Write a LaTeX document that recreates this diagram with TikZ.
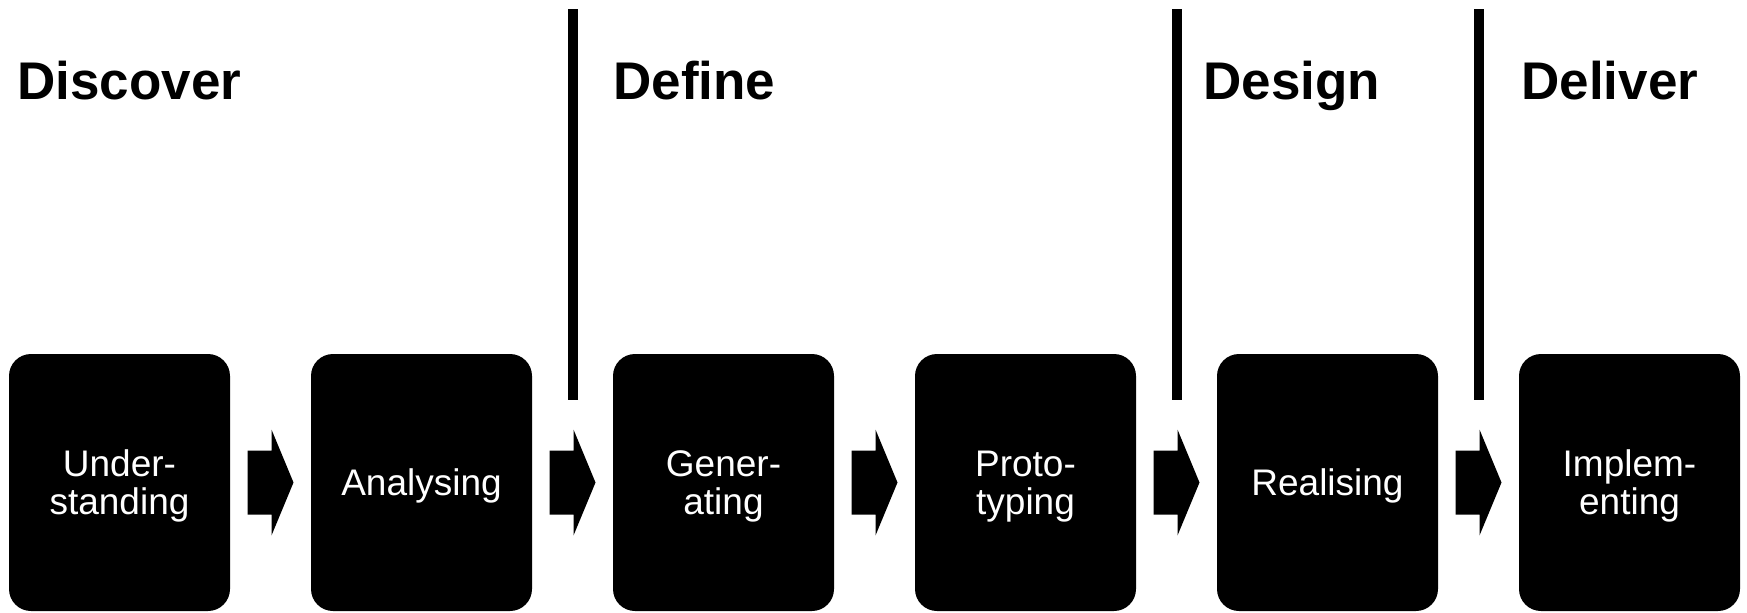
\documentclass[tikz,border=0pt]{standalone}
\usepackage{fontspec}
\setmainfont{Liberation Sans}
\usetikzlibrary{calc}
\tikzset{
	stage/.style={rectangle,fill=black,text=white,rounded corners=11pt,minimum width=110.5pt,minimum height=128.5pt,text depth=0pt,align=center,font=\fontsize{18.5}{19}\selectfont},
	head/.style={anchor=base west,inner sep=0pt,font=\bfseries\fontsize{26.5}{30}\selectfont},
	sepline/.style={black,line width=5pt}
}
\begin{document}
\begin{tikzpicture}[x=0.5pt,y=-0.5pt]
			\useasboundingbox (0,0) rectangle (1747,612);
			\node[stage](a) at (119.5,482.5){Under-\\standing};
			\node[stage](b) at (421.5,482.5){Analysing};
			\node[stage](c) at (723.5,482.5){Gener-\\ating};
			\node[stage](d) at (1025.5,482.5){Proto-\\typing};
			\node[stage](e) at (1327.5,482.5){Realising};
			\node[stage](f) at (1629.5,482.5){Implem-\\enting};
			\node[head](h1) at (17,99){Discover};
			\node[head](h2) at (613,99){Define};
			\node[head](h3) at (1203,99){Design};
			\node[head](h4) at (1521,99){Deliver};
			\coordinate (top) at (0,9);
			\coordinate (bot) at (0,400);
			\coordinate (m1) at ($(a.east)!0.5!(b.west)$);
			\coordinate (m2) at ($(b.east)!0.5!(c.west)$);
			\coordinate (m3) at ($(c.east)!0.5!(d.west)$);
			\coordinate (m4) at ($(d.east)!0.5!(e.west)$);
			\coordinate (m5) at ($(e.east)!0.5!(f.west)$);
			\fill ([shift={(-23,-32)}]m1) -- ++(24,0) -- ++(0,-21) -- ++(22,53) -- ++(-22,53) -- ++(0,-21) -- ++(-24,0) -- cycle;
			\fill ([shift={(-23,-32)}]m2) -- ++(24,0) -- ++(0,-21) -- ++(22,53) -- ++(-22,53) -- ++(0,-21) -- ++(-24,0) -- cycle;
			\fill ([shift={(-23,-32)}]m3) -- ++(24,0) -- ++(0,-21) -- ++(22,53) -- ++(-22,53) -- ++(0,-21) -- ++(-24,0) -- cycle;
			\fill ([shift={(-23,-32)}]m4) -- ++(24,0) -- ++(0,-21) -- ++(22,53) -- ++(-22,53) -- ++(0,-21) -- ++(-24,0) -- cycle;
			\fill ([shift={(-23,-32)}]m5) -- ++(24,0) -- ++(0,-21) -- ++(22,53) -- ++(-22,53) -- ++(0,-21) -- ++(-24,0) -- cycle;
			\draw[sepline](m2 |- top)--(m2 |- bot);
			\draw[sepline](m4 |- top)--(m4 |- bot);
			\draw[sepline](m5 |- top)--(m5 |- bot);
		\end{tikzpicture}
\end{document}
